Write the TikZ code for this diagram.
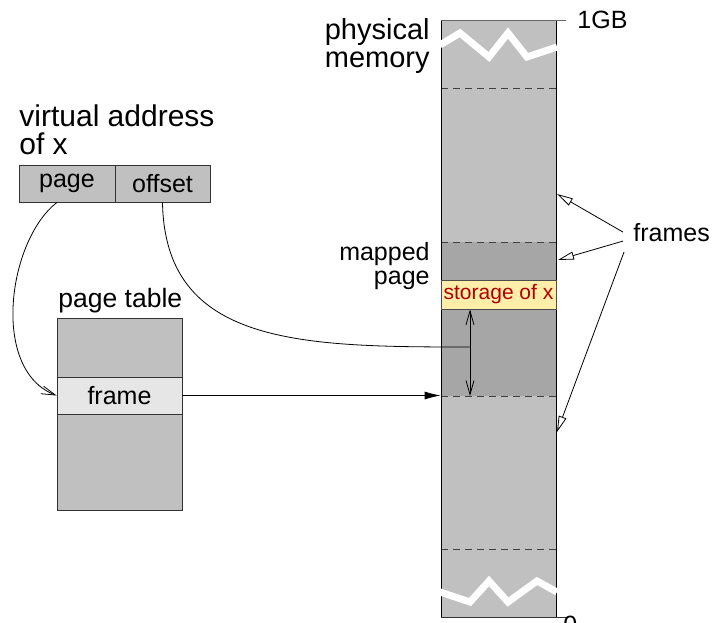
\documentclass[tikz,border=0pt]{standalone}
\usepackage{fontspec}
\setmainfont{Liberation Sans}
\usetikzlibrary{arrows.meta}
\definecolor{memgray}{HTML}{C0C0C0}
\definecolor{mapgray}{HTML}{A6A6A6}
\definecolor{rowgray}{HTML}{E6E6E6}
\definecolor{storefill}{HTML}{FFEEAA}
\definecolor{storetext}{HTML}{B00000}
\newcommand\fsz[2]{\fontsize{#1}{#2}\selectfont}

\begin{document}
\begin{tikzpicture}[x=1pt, y=-1pt, line width=0.8pt,
  cell/.style={draw=black!80, fill=memgray, inner sep=0pt, minimum height=37pt, font=\fsz{25}{25}},
  lbl/.style={inner sep=0pt, font=\fsz{25}{24}},
  biglbl/.style={inner sep=0pt, font=\fsz{29}{28}},
  barb/.style={-{Straight Barb[length=14pt,width=8pt]}},
  opentip/.style={-{Triangle[open,length=16pt,width=8pt]}}]
  \useasboundingbox (0,0) rectangle (712,622);
  % virtual address
  \node[biglbl, font=\fsz{30}{28}, anchor=north west, align=left] (vlabel) at (19,104) {virtual address\\of x};
  \node[cell, minimum width=96pt] (vpage) at (67,183.5) {page};
  \node[cell, minimum width=95pt] (voff) at (162.5,183.5) {offset};
  % page table
  \node[cell, minimum width=125pt, minimum height=192pt] (ptab) at (119.5,414) {};
  \node[cell, fill=rowgray, minimum width=125pt] (row) at (119.5,395.5) {frame};
  \node[lbl, font=\fsz{26.5}{26.5}, anchor=base west] (ptlabel) at (58,307) {page table};
  % physical memory
  \fill[memgray] (441,20) rectangle (556,617);
  \fill[mapgray] (441,242) rectangle (556,396);
  \foreach \y in {88,242,396,549}
    \draw[black!75, dash pattern=on 7pt off 5pt] (441,\y) -- (556,\y);
  \draw (441,20) -- (441,617);
  \draw (556,20) -- (556,617);
  \draw[black!60] (441,20) -- (566,20);
  \draw[black!80] (441,617) -- (566,617);
  \node[draw=black!70, fill=storefill, text=storetext, inner sep=0pt,
        minimum width=115pt, minimum height=29pt, font=\fsz{21}{21}] (store) at (498.5,294.5) {storage of x};
  \draw[white, line width=7pt] (440,45) -- (460,33) -- (489,57) -- (508,33) -- (527,57) -- (557,47);
  \draw[white, line width=7pt] (440,592) -- (470,602) -- (489,581) -- (508,602) -- (537,581) -- (557,592);
  \node[biglbl, anchor=north east, align=right] (pmlabel) at (430,18) {physical\\memory};
  \node[lbl, anchor=north east, align=right] (mplabel) at (430,242) {mapped\\page};
  \node[lbl, anchor=west] (top) at (577,20) {1GB};
  \node[lbl, anchor=west] (bottom) at (563,625) {0};
  % offset
  \coordinate (off) at (470,347);
  \coordinate (pgtop) at (470,396);
  \draw (voff.south) .. controls (165,345) and (300,347) .. (off);
  \draw[{Straight Barb[length=14pt,width=8pt]}-{Straight Barb[length=14pt,width=8pt]}] (store.south -| off) -- (pgtop);
  % page -> frame -> memory
  \draw[barb] ([xshift=-10pt]vpage.south) .. controls (8,240) and (-10,370) .. (row.west);
  \draw[-{Latex[length=16pt,width=8pt]}] (row.east) -- (row.east -| store.west);
  % frames
  \node[lbl, anchor=base west] (frames) at (633,241) {frames};
  \coordinate (fa) at (557,194);
  \coordinate (fb) at (558,260);
  \coordinate (fc) at (557,432);
  \draw[opentip] ([xshift=-10pt]frames.west) -- (fa);
  \draw[opentip] ([xshift=-10pt,yshift=-9pt]frames.west) -- (fb);
  \draw[opentip] ([xshift=-9pt,yshift=-20pt]frames.west) -- (fc);
\end{tikzpicture}
\end{document}
